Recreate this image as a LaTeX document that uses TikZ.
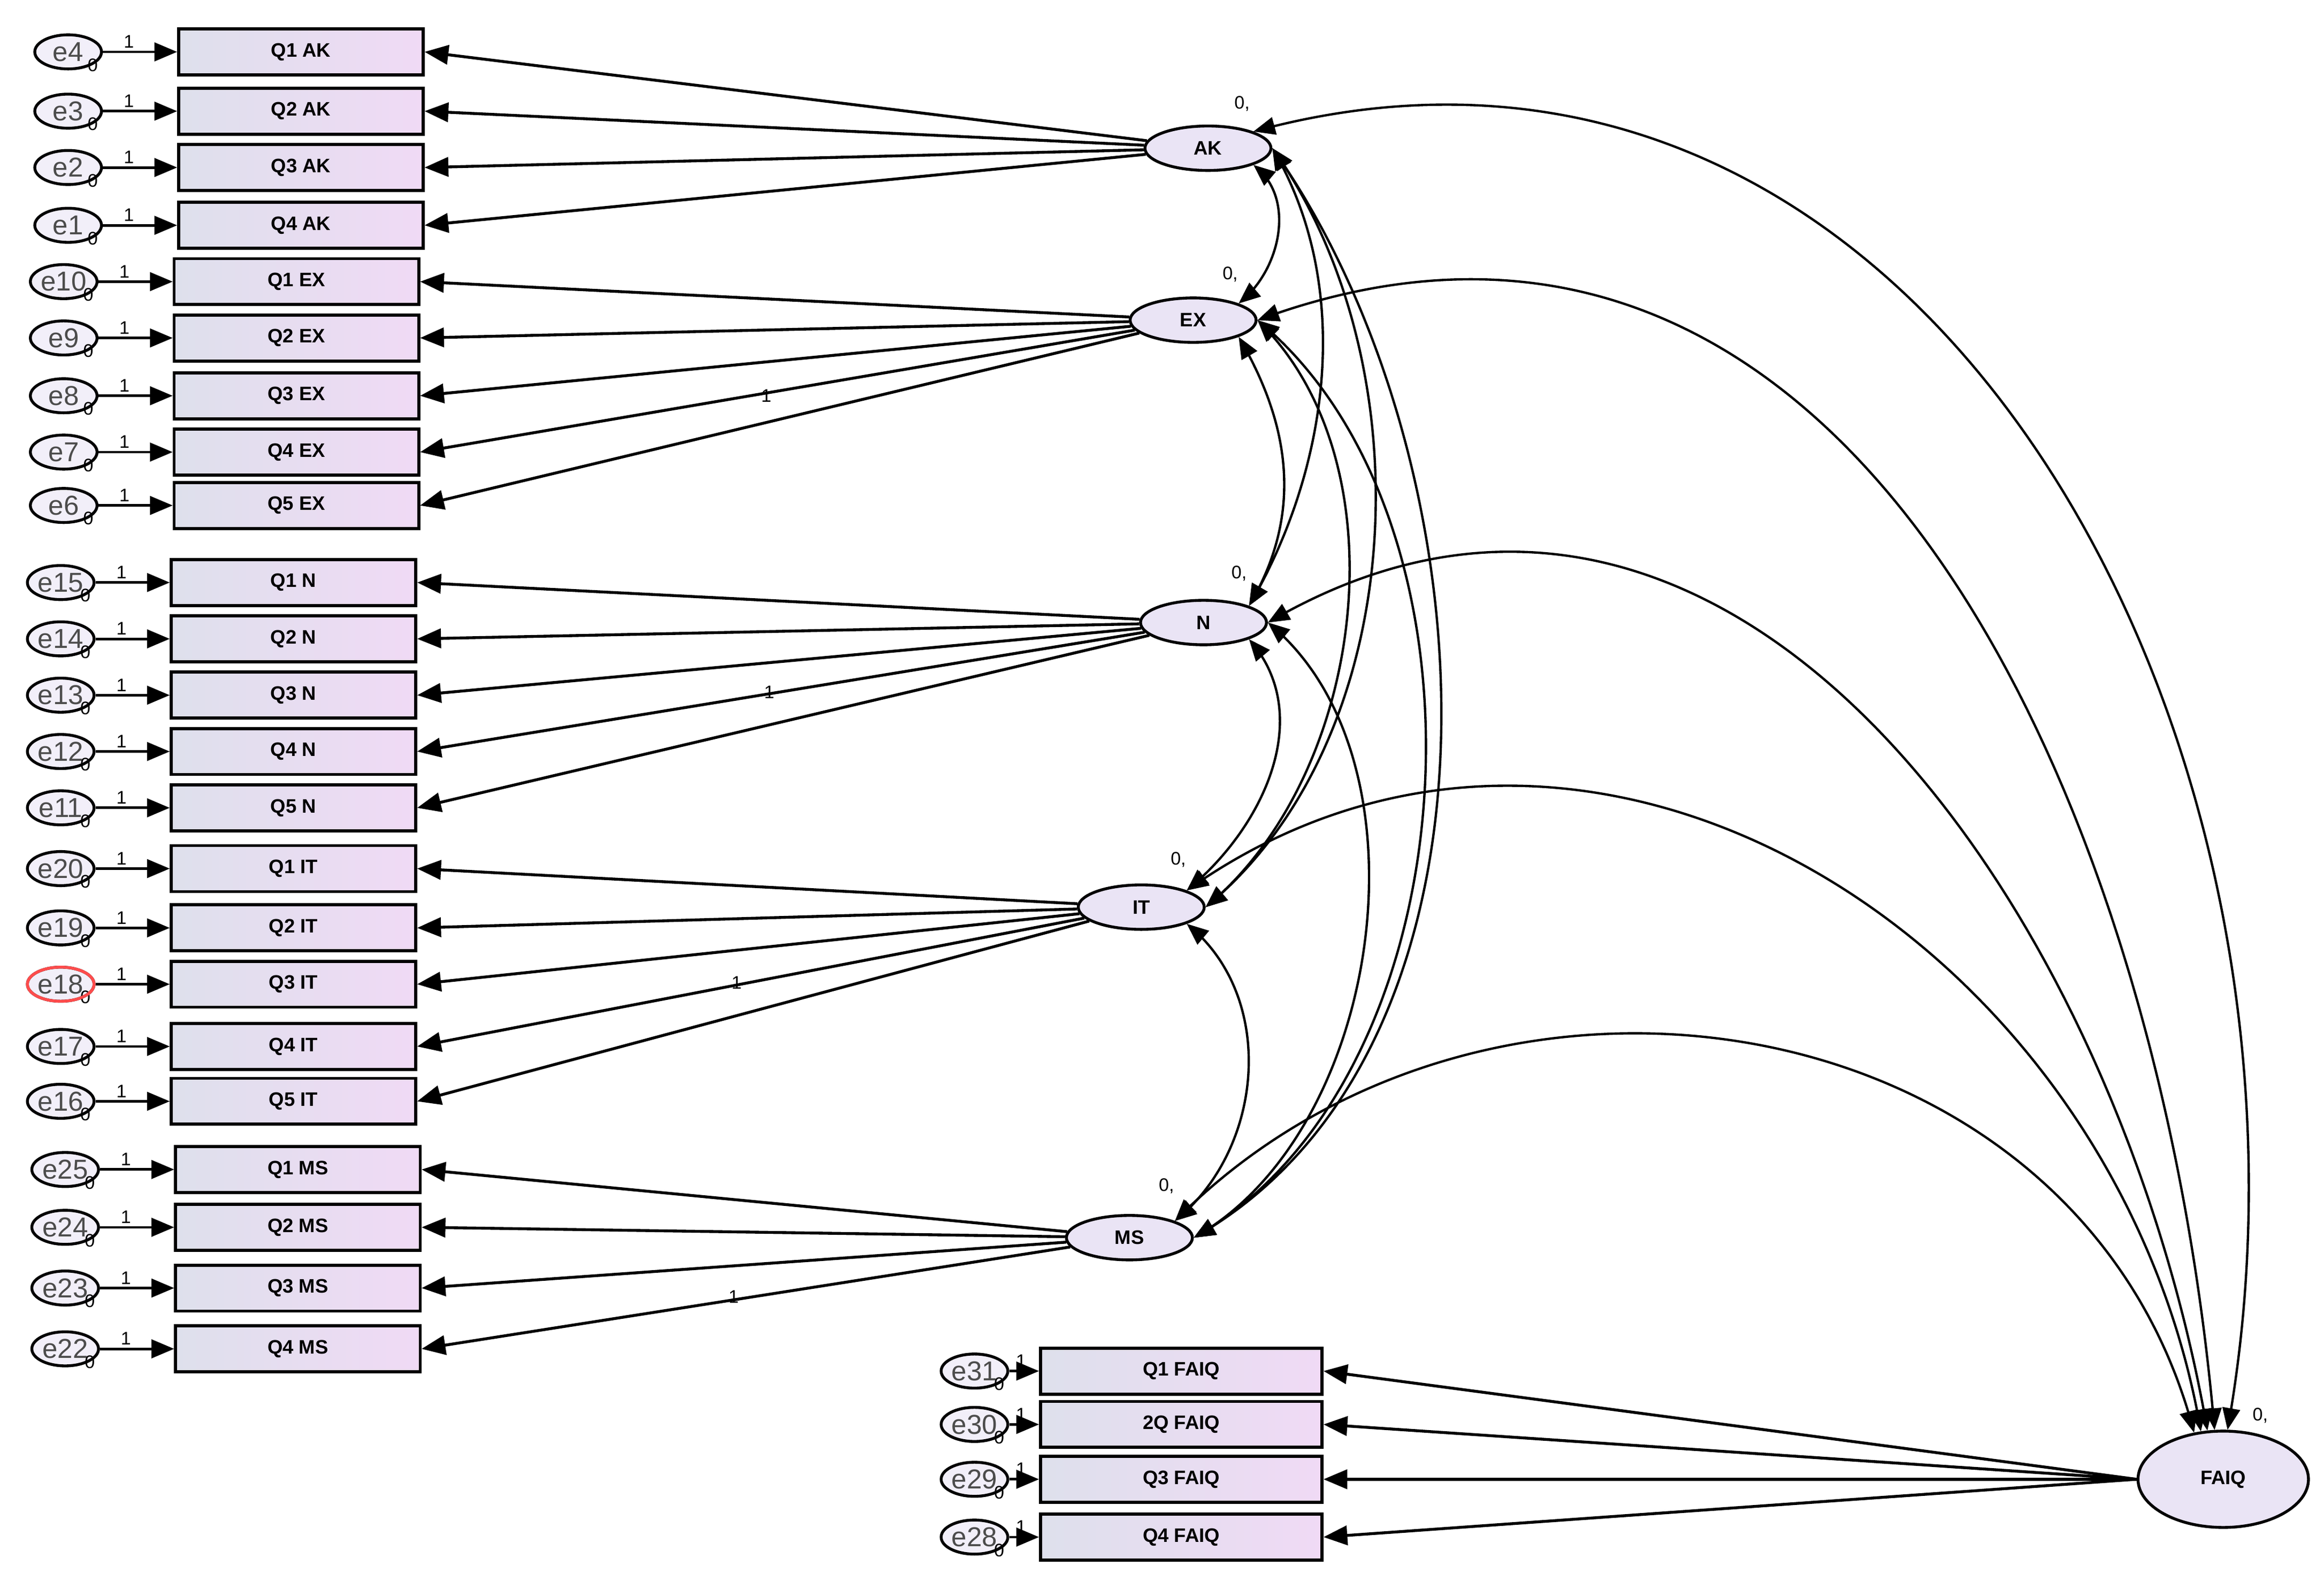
\documentclass[tikz,border=0pt]{standalone}
\usepackage{fontspec}
\setmainfont{Liberation Sans}
\usetikzlibrary{positioning,arrows,shapes.geometric}

\definecolor{boxleft}{RGB}{222,224,236}
\definecolor{boxright}{RGB}{240,218,245}
\definecolor{latfill}{RGB}{234,228,245}

\tikzset{
    ind/.style={draw, line width=1.2pt, left color=boxleft, right color=boxright,
        minimum width=33mm, minimum height=6.2mm, inner sep=0pt,
        font=\fontsize{7.5}{8}\selectfont\bfseries},
    err/.style={draw, ellipse, line width=1.1pt, fill=latfill!60,
        minimum width=9mm, minimum height=4.6mm, inner sep=0pt,
        font=\fontsize{10.5}{10}\selectfont, text=black!70},
    lat/.style={draw, ellipse, line width=1.1pt, fill=latfill,
        minimum width=17mm, minimum height=6mm, inner sep=0pt,
        font=\fontsize{7.5}{8}\selectfont\bfseries},
    load/.style={<-, line width=1.1pt},
    cov/.style={<->, line width=0.9pt},
    num/.style={font=\fontsize{7}{7}\selectfont, inner sep=1pt}
}

\begin{document}
\begin{tikzpicture}[x=0.2mm, y=-0.2mm, >=triangle 45]
    \useasboundingbox (0,0) rectangle (1568,1072);

    % latent variables
    \node[lat] (AK) at (815,100) {AK};
    \node[lat] (EX) at (805,216) {EX};
    \node[lat] (N) at (812,420) {N};
    \node[lat] (IT) at (770,612) {IT};
    \node[lat] (MS) at (762,835) {MS};
    \node[lat, minimum width=23mm, minimum height=13mm] (FAIQ) at (1500,998) {FAIQ};

    \node[num] at (838,70) {0,};
    \node[num] at (830,185) {0,};
    \node[num] at (836,387) {0,};
    \node[num] at (795,580) {0,};
    \node[num] at (787,800) {0,};
    \node[num] at (1525,955) {0,};

    % indicators
    \foreach \q/\e/\y in {1/4/35,2/3/75,3/2/113,4/1/152} {
        \node[ind] (AK\q) at (203,\y) {Q\q\ AK};
        \node[err, left=10mm of AK\q] (e\e) {e\e};
        \draw[->, line width=1pt] (e\e) -- node[num, above, pos=0.35] {1} (AK\q);
        \node[num] at (e\e.south east) {0};
        \draw[load] (AK\q.east) -- (AK);
    }
    \foreach \q/\e/\y in {1/10/190,2/9/228,3/8/267,4/7/305,5/6/341} {
        \node[ind] (EX\q) at (200,\y) {Q\q\ EX};
        \node[err, left=10mm of EX\q] (e\e) {e\e};
        \draw[->, line width=1pt] (e\e) -- node[num, above, pos=0.35] {1} (EX\q);
        \node[num] at (e\e.south east) {0};
        \draw[load] (EX\q.east) -- (EX);
    }
    \foreach \q/\e/\y in {1/15/393,2/14/431,3/13/469,4/12/507,5/11/545} {
        \node[ind] (N\q) at (198,\y) {Q\q\ N};
        \node[err, left=10mm of N\q] (e\e) {e\e};
        \draw[->, line width=1pt] (e\e) -- node[num, above, pos=0.35] {1} (N\q);
        \node[num] at (e\e.south east) {0};
        \draw[load] (N\q.east) -- (N);
    }
    \foreach \q/\e/\y in {1/20/586,2/19/626,3/18/664,4/17/706,5/16/743} {
        \node[ind] (IT\q) at (198,\y) {Q\q\ IT};
        \node[err, left=10mm of IT\q] (e\e) {e\e};
        \draw[->, line width=1pt] (e\e) -- node[num, above, pos=0.35] {1} (IT\q);
        \node[num] at (e\e.south east) {0};
        \draw[load] (IT\q.east) -- (IT);
    }
    \draw[red!70, line width=1.1pt] (e18) ellipse (4.5mm and 2.3mm);
    \foreach \q/\e/\y in {1/25/789,2/24/828,3/23/869,4/22/910} {
        \node[ind] (MS\q) at (201,\y) {Q\q\ MS};
        \node[err, left=10mm of MS\q] (e\e) {e\e};
        \draw[->, line width=1pt] (e\e) -- node[num, above, pos=0.35] {1} (MS\q);
        \node[num] at (e\e.south east) {0};
        \draw[load] (MS\q.east) -- (MS);
    }
    \foreach \q/\e/\t/\y in {1/31/Q1/925,2/30/2Q/961,3/29/Q3/998,4/28/Q4/1037} {
        \node[ind, minimum width=38mm] (FA\q) at (797,\y) {\t\ FAIQ};
        \node[err, left=4mm of FA\q] (e\e) {e\e};
        \draw[->, line width=1pt] (e\e) -- node[num, above, pos=0.4] {1} (FA\q);
        \node[num] at (e\e.south east) {0};
        \draw[load] (FA\q.east) -- (FAIQ.west);
    }

    % fixed loadings
    \node[num] at (517,267) {1};
    \node[num] at (519,467) {1};
    \node[num] at (497,663) {1};
    \node[num] at (495,875) {1};

    % covariances
    \draw[cov] (AK.south east) to[out=-40, in=40] (EX.north east);
    \draw[cov] (AK.east) to[out=-60, in=60, looseness=0.9] (N.north east);
    \draw[cov] (AK.east) to[out=-55, in=40, looseness=0.9] (IT.east);
    \draw[cov] (AK.east) to[out=-55, in=30, looseness=0.9] (MS.east);
    \draw[cov] (AK.north east) to[out=15, in=80, looseness=1.1] (FAIQ.85);
    \draw[cov] (EX.south east) to[out=-60, in=60] (N.north east);
    \draw[cov] (EX.east) to[out=-45, in=40, looseness=0.9] (IT.east);
    \draw[cov] (EX.east) to[out=-40, in=30, looseness=0.9] (MS.east);
    \draw[cov] (EX.east) to[out=20, in=95, looseness=1.1] (FAIQ.100);
    \draw[cov] (N.south east) to[out=-50, in=40] (IT.north east);
    \draw[cov] (N.east) to[out=-40, in=30, looseness=0.9] (MS.east);
    \draw[cov] (N.east) to[out=30, in=100, looseness=1.1] (FAIQ.108);
    \draw[cov] (IT.north east) to[out=35, in=100, looseness=1.1] (FAIQ.115);
    \draw[cov] (IT.south east) to[out=-40, in=40] (MS.north east);
    \draw[cov] (MS.north east) to[out=45, in=105, looseness=1.1] (FAIQ.122);
\end{tikzpicture}
\end{document}
